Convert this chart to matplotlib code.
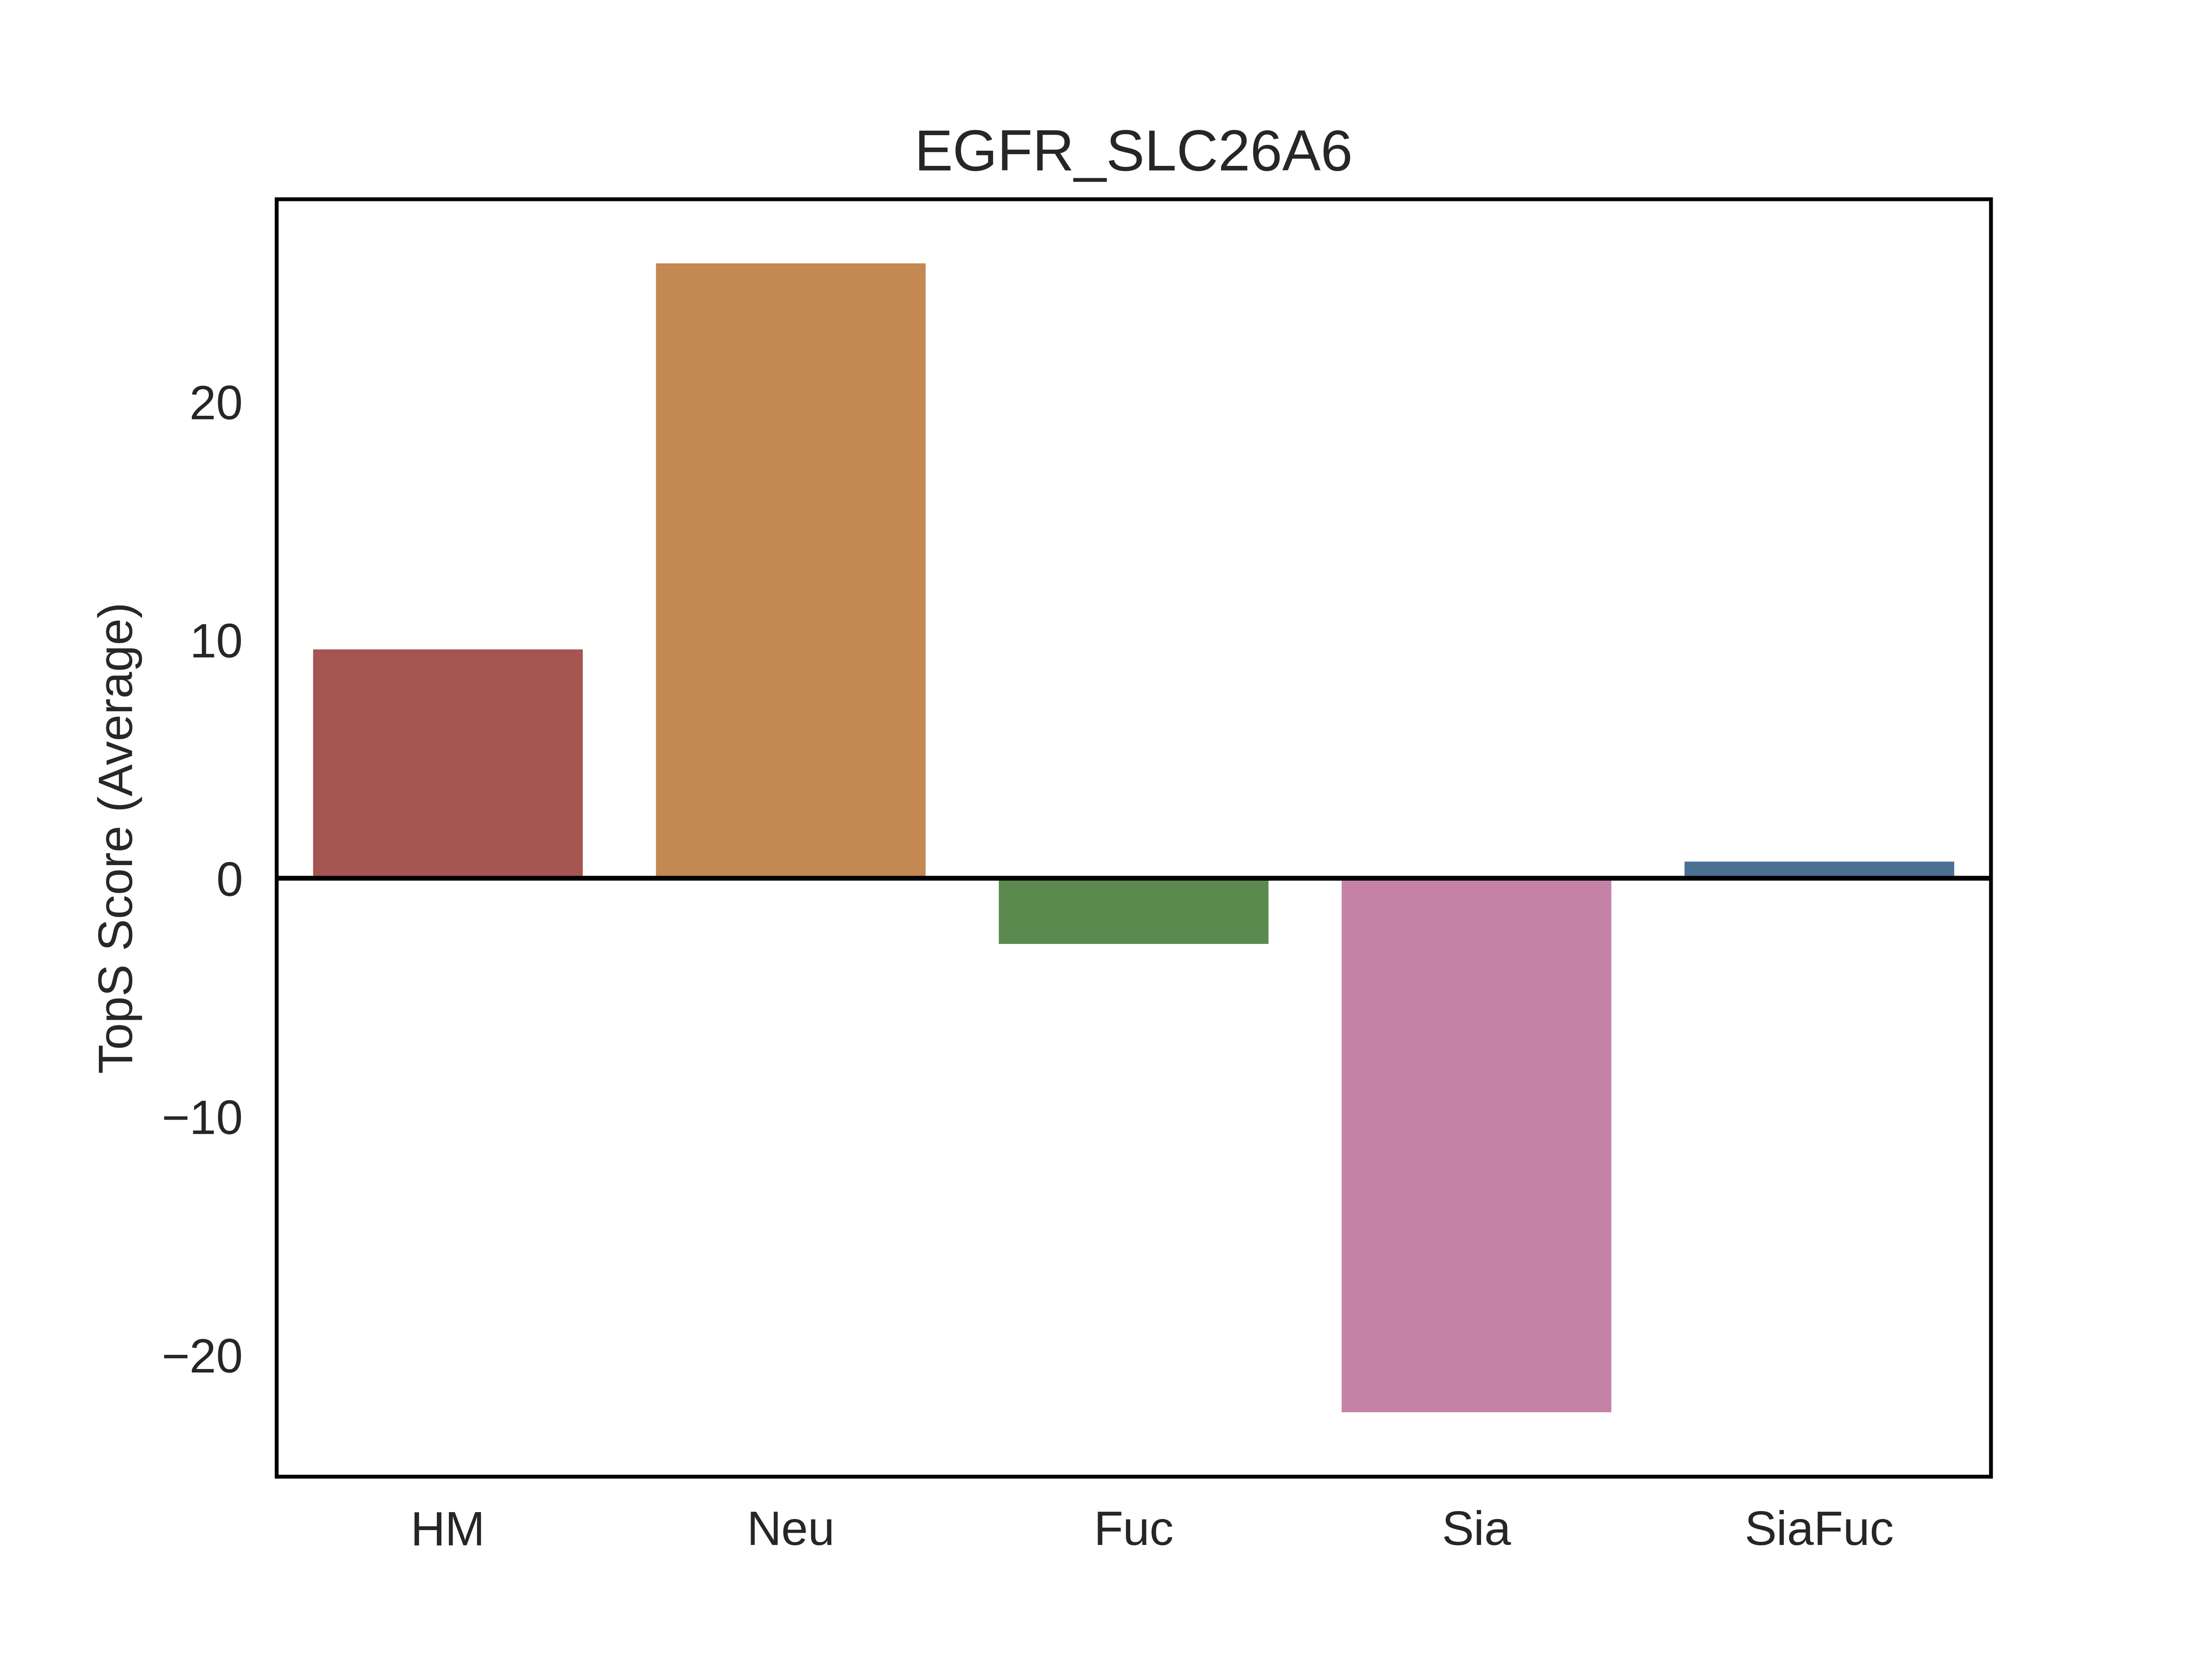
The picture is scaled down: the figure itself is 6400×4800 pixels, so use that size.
import matplotlib
matplotlib.use("Agg")
import matplotlib.pyplot as plt
import seaborn as sns

categories = ["HM", "Neu", "Fuc", "Sia", "SiaFuc"]
scores = [9.7, 25.9, -2.85, -22.5, 0.8]
colors = ["#a55552", "#c48852", "#5b8a4f", "#c482a6", "#4a7094"]

sns.set_style("white")
plt.rcParams['font.family'] = ['Liberation Sans', 'DejaVu Sans']

fig, ax = plt.subplots(figsize=(6.4, 4.8))
ax.bar(categories, scores, color=colors, width=0.8)
ax.axhline(0, color="black", linewidth=1)
ax.set_xlim(-0.5, len(categories) - 0.5)
ax.set_ylim(-25.1, 28.5)
ax.set_title("EGFR_SLC26A6")
ax.set_ylabel("TopS Score (Average)")
for s in ax.spines.values():
    s.set_color("black")
    s.set_linewidth(0.8)

fig.savefig("out.png", dpi=1000)
